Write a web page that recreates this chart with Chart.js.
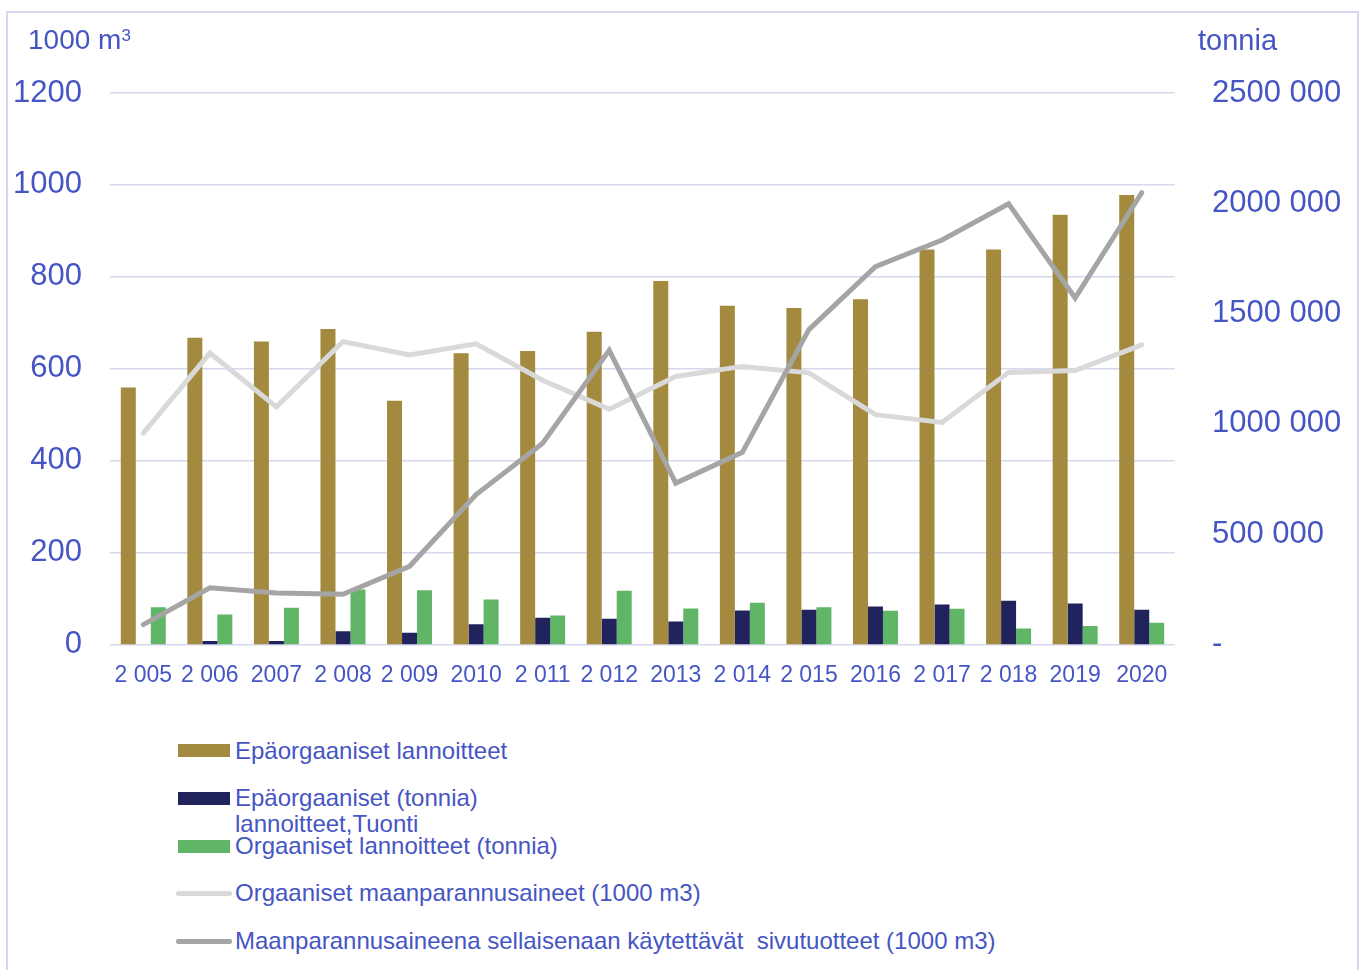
<!DOCTYPE html>
<html>
<head>
<meta charset="utf-8">
<script src="https://cdn.jsdelivr.net/npm/chart.js@4/dist/chart.umd.min.js"></script>
<style>
  html, body { margin: 0; padding: 0; background: #ffffff; }
  body { width: 1363px; height: 970px; position: relative; overflow: hidden;
         font-family: "Liberation Sans", Arial, sans-serif; color: #4655C4; }
  #frame { position: absolute; left: 6px; top: 11px; width: 1353px; height: 980px;
           border: 2px solid #D6D8F0; box-sizing: border-box; }
  #wrap { position: absolute; left: 0; top: 0; width: 1363px; height: 700px; }
  .unit { position: absolute; font-size: 28px; line-height: 28px; white-space: nowrap; }
  .unit sup { font-size: 17px; position: relative; top: -4px; vertical-align: top; }
  #legend .txt { position: absolute; left: 235px; font-size: 24px; line-height: 26px; white-space: nowrap; }
  #legend .sw { position: absolute; }
</style>
</head>
<body>
<div id="frame"></div>
<div id="wrap"><canvas id="c" width="1363" height="700"></canvas></div>
<div class="unit" id="unitLeft" style="left:28px; top:26px;">1000 m<sup>3</sup></div>
<div class="unit" id="unitRight" style="left:1198px; top:26px; font-size:29px;">tonnia</div>
<div id="legend"></div>
<script>
// ---- Data ----
const years = ["2 005", "2 006", "2007", "2 008", "2 009", "2010", "2 011", "2 012",
               "2013", "2 014", "2 015", "2016", "2 017", "2 018", "2019", "2020"];

// tonnia (right axis)
const epaorgaaniset = [1165000, 1390000, 1373000, 1430000, 1105000, 1320000, 1330000, 1417000,
                       1648000, 1535000, 1525000, 1565000, 1790000, 1790000, 1948000, 2038000];
const epaorgaanisetTuonti = [0, 15000, 15000, 60000, 53000, 91000, 121000, 116000,
                             104000, 154000, 157000, 172000, 181000, 198000, 186000, 157000];
const orgaanisetLannoitteet = [169000, 136000, 166000, 249000, 245000, 204000, 131000, 243000,
                               163000, 189000, 168000, 152000, 162000, 72000, 83000, 98000];

// 1000 m3 (left axis)
const orgaanisetMaanparannus = [460, 634, 517, 659, 630, 654, 575, 512,
                                583, 605, 591, 500, 483, 592, 596, 652];
const sivutuotteet = [43, 123, 112, 109, 170, 326, 438, 640,
                      351, 418, 685, 822, 880, 959, 754, 983];

const leftTicks = [0, 200, 400, 600, 800, 1000, 1200];
const rightTicks = [0, 500000, 1000000, 1500000, 2000000, 2500000];

const seriesLabels = [
  "Epäorgaaniset lannoitteet",
  "Epäorgaaniset lannoitteet,Tuonti (tonnia)",
  "Orgaaniset lannoitteet (tonnia)",
  "Orgaaniset maanparannusaineet (1000 m3)",
  "Maanparannusaineena sellaisenaan käytettävät  sivutuotteet (1000 m3)"
];
const legendTexts = [
  ["Epäorgaaniset lannoitteet"],
  ["Epäorgaaniset (tonnia)", "lannoitteet,Tuonti"],
  ["Orgaaniset lannoitteet (tonnia)"],
  ["Orgaaniset maanparannusaineet (1000 m3)"],
  ["Maanparannusaineena sellaisenaan käytettävät\u00A0 sivutuotteet (1000 m3)"]
];
const colors = ["#A38A3F", "#21245C", "#61B566", "#D9D9D9", "#A5A5A5"];

const textColor = "#4655C4";
const gridColor = "#D6D8F0";

const chart = new Chart(document.getElementById("c"), {
  type: "bar",
  data: {
    labels: years,
    datasets: [
      { type: "bar", label: seriesLabels[0], data: epaorgaaniset, yAxisID: "y1",
        backgroundColor: colors[0], order: 3 },
      { type: "bar", label: seriesLabels[1], data: epaorgaanisetTuonti, yAxisID: "y1",
        backgroundColor: colors[1], order: 3 },
      { type: "bar", label: seriesLabels[2], data: orgaanisetLannoitteet, yAxisID: "y1",
        backgroundColor: colors[2], order: 3 },
      { type: "line", label: seriesLabels[3], data: orgaanisetMaanparannus, yAxisID: "y",
        borderColor: colors[3], backgroundColor: colors[3], borderWidth: 5, pointRadius: 0,
        tension: 0, fill: false, order: 2, borderCapStyle: "round", borderJoinStyle: "miter" },
      { type: "line", label: seriesLabels[4], data: sivutuotteet, yAxisID: "y",
        borderColor: colors[4], backgroundColor: colors[4], borderWidth: 5, pointRadius: 0,
        tension: 0, fill: false, order: 1, borderCapStyle: "round", borderJoinStyle: "miter" }
    ]
  },
  options: {
    responsive: false,
    animation: false,
    devicePixelRatio: 1,
    categoryPercentage: 0.676,
    barPercentage: 1.0,
    layout: { padding: { top: 93, left: 0, right: 0, bottom: 0 } },
    plugins: { legend: { display: false }, tooltip: { enabled: false }, title: { display: false } },
    scales: {
      x: {
        offset: true,
        grid: { display: false, drawTicks: false },
        border: { display: false },
        ticks: { color: textColor, font: { family: "Liberation Sans", size: 23 },
                 padding: 17, maxRotation: 0, autoSkip: false },
        afterFit: (s) => { s.height = 55; }
      },
      y: {
        position: "left",
        min: leftTicks[0], max: leftTicks[leftTicks.length - 1],
        afterBuildTicks: (s) => { s.ticks = leftTicks.map(v => ({ value: v })); },
        grid: { color: gridColor, lineWidth: 1.5, drawTicks: false },
        border: { display: false },
        ticks: { color: textColor, font: { family: "Liberation Sans", size: 31 }, padding: 28,
                 callback: (v) => String(v) },
        afterFit: (s) => { s.width = 110; }
      },
      y1: {
        position: "right",
        min: rightTicks[0], max: rightTicks[rightTicks.length - 1],
        afterBuildTicks: (s) => { s.ticks = rightTicks.map(v => ({ value: v })); },
        grid: { display: false, drawTicks: false },
        border: { display: false },
        ticks: {
          color: textColor, font: { family: "Liberation Sans", size: 31 }, padding: 37,
          callback: (v) => v === 0 ? "-" : Math.round(v / 1000) + " 000"
        },
        afterFit: (s) => { s.width = 188; }
      }
    }
  }
});

// ---- HTML legend built from the datasets ----
const legend = document.getElementById("legend");
const rowTextTops = [738, 785, 833, 880, 928];
const swatchSpecs = [
  { kind: "bar", top: 744 }, { kind: "bar", top: 792 }, { kind: "bar", top: 840 },
  { kind: "line", top: 891 }, { kind: "line", top: 939 }
];
chart.data.datasets.forEach((ds, i) => {
  const sw = document.createElement("div");
  sw.className = "sw";
  if (swatchSpecs[i].kind === "bar") {
    Object.assign(sw.style, { left: "178px", top: swatchSpecs[i].top + "px", width: "52px",
                              height: "13px", background: ds.backgroundColor });
  } else {
    Object.assign(sw.style, { left: "176px", top: swatchSpecs[i].top + "px", width: "56px",
                              height: "5px", borderRadius: "3px", background: ds.borderColor });
  }
  legend.appendChild(sw);
  const t = document.createElement("div");
  t.className = "txt";
  t.style.top = rowTextTops[i] + "px";
  t.innerHTML = legendTexts[i].join("<br>");
  legend.appendChild(t);
});
</script>
</body>
</html>
